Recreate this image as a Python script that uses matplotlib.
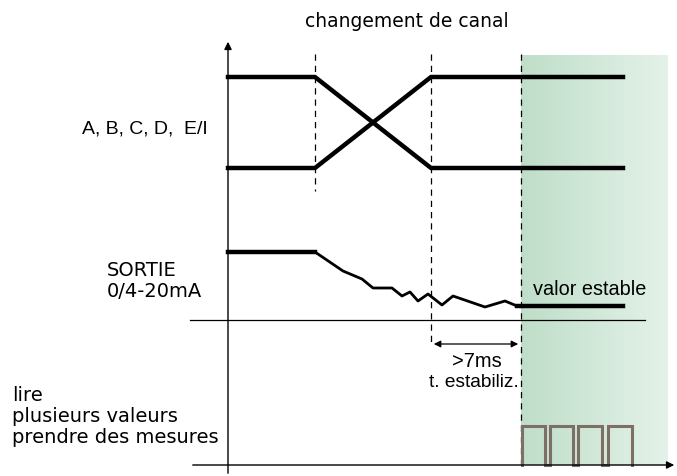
import numpy as np
import matplotlib
matplotlib.use("Agg")
import matplotlib.pyplot as plt
from matplotlib.colors import LinearSegmentedColormap

# --- diagram data (pixel-like coordinate system of the diagram) ---
t_events = [315, 431, 521]          # channel change start, end, stabilised
dash_ends = [192, 347, 466]
t_start, t_end = 228, 623
chan_hi, chan_lo = 78, 169
out_x = [228, 315, 343, 362, 373, 392, 402, 410, 418, 428, 442, 453, 485, 505, 517]
out_y = [253, 253, 272, 280, 289, 289, 297, 293, 302, 295, 306, 297, 308, 302, 307]
out_stable = 307
pulse_up = [522, 550, 578, 608]
pulse_down = [545, 573, 602, 632]
pulse_top, pulse_base = 427, 466

fig = plt.figure(figsize=(6.77, 4.77), dpi=100)
ax = fig.add_axes([0, 0, 1, 1])
ax.set_xlim(0, 677)
ax.set_ylim(477, 0)
ax.axis("off")

# green gradient zone
cmap = LinearSegmentedColormap.from_list("g", ["#bfdec9", "#e4f2e9"])
grad = np.linspace(0, 1, 256).reshape(1, -1)
ax.imshow(grad, cmap=cmap, extent=[t_events[2], 668, 466, 56], aspect="auto", zorder=0)

# axes
ax.annotate("", xy=(228, 40), xytext=(228, 477),
            arrowprops=dict(arrowstyle="-|>", color="black", lw=1.0, mutation_scale=11))
ax.annotate("", xy=(677, 466), xytext=(190, 466),
            arrowprops=dict(arrowstyle="-|>", color="black", lw=1.0, mutation_scale=11))
ax.plot([190, 645], [321, 321], color="black", lw=0.9)

# dashed event lines
for x, ye in zip(t_events, dash_ends):
    ax.plot([x, x], [55, ye], color="black", lw=0.9, ls=(0, (5, 4)))

# channel lines
thick = 3.2
ax.plot([t_start, t_events[0], t_events[1], t_end], [chan_hi, chan_hi, chan_lo, chan_lo],
        color="black", lw=thick, solid_joinstyle="miter")
ax.plot([t_start, t_events[0], t_events[1], t_end], [chan_lo, chan_lo, chan_hi, chan_hi],
        color="black", lw=thick, solid_joinstyle="miter")

# output signal
ax.plot(out_x[:2], out_y[:2], color="black", lw=thick)
ax.plot(out_x[1:], out_y[1:], color="black", lw=2.0)
ax.plot([out_x[-1], t_end], [out_stable, out_stable], color="black", lw=thick)

# pulses
px, py = [], []
for u, d in zip(pulse_up, pulse_down):
    px += [u, u, d, d]
    py += [pulse_base, pulse_top, pulse_top, pulse_base]
ax.plot(px, py, color="#7d6f66", lw=2.2, solid_joinstyle="miter")

# stabilisation arrow
ax.annotate("", xy=(t_events[1], 345), xytext=(t_events[2], 345),
            arrowprops=dict(arrowstyle="<|-|>", color="black", lw=0.9, mutation_scale=10))

# texts
ax.text(407, 27, "changement de canal", family="DejaVu Sans", fontsize=13.5, ha="center", va="baseline")
ax.text(82, 134, "A, B, C, D,  E/I", family="Liberation Sans", fontsize=14, ha="left", va="baseline")
ax.text(107, 276, "SORTIE", family="DejaVu Sans", fontsize=14, ha="left", va="baseline")
ax.text(107, 297, "0/4-20mA", family="DejaVu Sans", fontsize=14, ha="left", va="baseline")
ax.text(533, 295, "valor estable", family="Liberation Sans", fontsize=14.3, ha="left", va="baseline")
ax.text(477, 367, ">7ms", family="Liberation Sans", fontsize=14.5, ha="center", va="baseline")
ax.text(474, 387, "t. estabiliz.", family="Liberation Sans", fontsize=13.8, ha="center", va="baseline")
for i, s in enumerate(["lire", "plusieurs valeurs", "prendre des mesures"]):
    ax.text(12, 401 + 21 * i, s, family="DejaVu Sans", fontsize=14, ha="left", va="baseline")

fig.savefig("out.png", dpi=100)
